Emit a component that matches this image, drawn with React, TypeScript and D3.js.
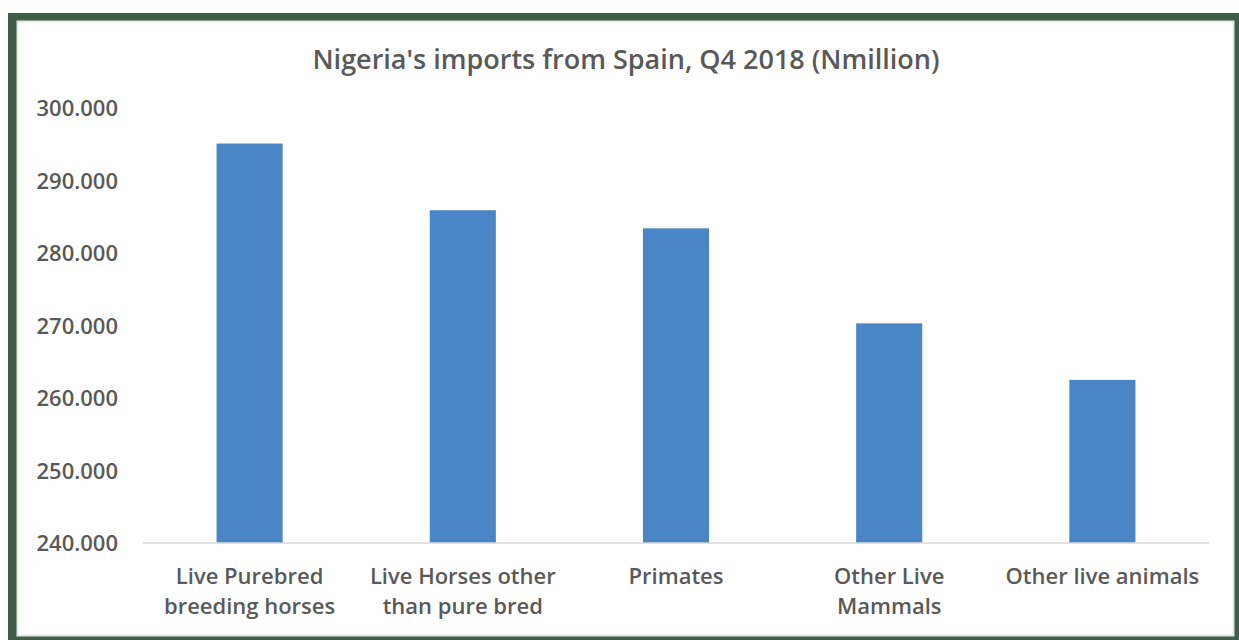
import * as d3 from "d3";
import { useRef, useEffect } from "react";

const categories: string[] = [
  "Live Purebred\nbreeding horses",
  "Live Horses other\nthan pure bred",
  "Primates",
  "Other Live\nMammals",
  "Other live animals",
];
const imports: number[] = [295.1, 285.9, 283.4, 270.3, 262.5];
const yTicks: number[] = [240, 250, 260, 270, 280, 290, 300];

export default function App() {
  const svgRef: any = useRef();

  useEffect(() => {
    const w = 1239;
    const h = 640;
    const font = "'Open Sans', sans-serif";
    const textColor = "#595959";
    const svg = d3.select(svgRef.current).attr("width", w).attr("height", h);
    svg.selectAll("*").remove();

    // frame
    svg.append("rect").attr("x", 8).attr("y", 13).attr("width", w - 8).attr("height", h - 13).attr("fill", "#3f5e49");
    svg
      .append("rect")
      .attr("x", 17.5)
      .attr("y", 21.5)
      .attr("width", 1216)
      .attr("height", 614)
      .attr("fill", "#ffffff")
      .attr("stroke", "#e6e6e6")
      .attr("stroke-width", 2);

    // scales
    const x = d3.scaleBand().domain(categories).range([143, 1209]).paddingInner(0.69).paddingOuter(0.345);
    const y = d3.scaleLinear().domain([240, 300]).range([543, 108]);

    // title
    svg
      .append("text")
      .attr("x", 626)
      .attr("y", 69)
      .attr("text-anchor", "middle")
      .attr("font-family", font)
      .attr("font-weight", 600)
      .attr("font-size", 27)
      .attr("fill", textColor)
      .text("Nigeria's imports from Spain, Q4 2018 (Nmillion)");

    // y tick labels
    svg
      .append("g")
      .selectAll("text")
      .data(yTicks)
      .join("text")
      .attr("x", 118)
      .attr("y", (d) => y(d) + 8)
      .attr("text-anchor", "end")
      .attr("font-family", font)
      .attr("font-weight", 600)
      .attr("font-size", 22)
      .attr("fill", textColor)
      .text((d) => d3.format(".3f")(d));

    // bars
    svg
      .append("g")
      .selectAll("rect")
      .data(imports)
      .join("rect")
      .attr("x", (d, i) => x(categories[i]) as number)
      .attr("y", (d) => y(d))
      .attr("width", x.bandwidth())
      .attr("height", (d) => y(240) - y(d))
      .attr("fill", "#4a86c6");

    // baseline
    svg
      .append("line")
      .attr("x1", 143)
      .attr("x2", 1209)
      .attr("y1", y(240))
      .attr("y2", y(240))
      .attr("stroke", "#d9d9d9")
      .attr("stroke-width", 1.5);

    // category labels
    const labels = svg
      .append("g")
      .selectAll("text")
      .data(categories)
      .join("text")
      .attr("x", (d) => (x(d) as number) + x.bandwidth() / 2)
      .attr("y", 584)
      .attr("text-anchor", "middle")
      .attr("font-family", font)
      .attr("font-weight", 600)
      .attr("font-size", 22)
      .attr("fill", textColor);
    labels
      .selectAll("tspan")
      .data((d) => d.split("\n"))
      .join("tspan")
      .attr("x", function () {
        return (this as any).parentNode.getAttribute("x");
      })
      .attr("dy", (d, i) => (i === 0 ? 0 : 30))
      .text((d) => d);
  }, []);

  return (
    <div style={{ position: "absolute", left: 0, top: 0 }}>
      <svg ref={svgRef} style={{ display: "block" }}></svg>
    </div>
  );
}
